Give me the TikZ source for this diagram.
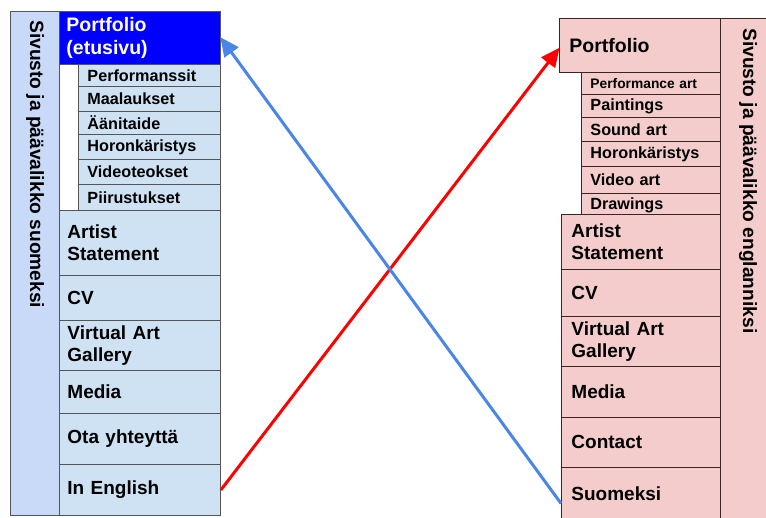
\documentclass[tikz,border=0pt]{standalone}
\usepackage{fontspec}
\setmainfont{Liberation Sans}
\usetikzlibrary{arrows.meta}
\definecolor{lblue}{HTML}{CFE2F3}
\definecolor{sideblue}{HTML}{C9DAF8}
\definecolor{dblue}{HTML}{0000FF}
\definecolor{lpink}{HTML}{F4CCCC}
\definecolor{lborder}{HTML}{555555}
\definecolor{rborder}{HTML}{3A2424}
\definecolor{arrowblue}{HTML}{4A86E8}
\definecolor{arrowred}{HTML}{FF0000}
\tikzset{
  basebox/.style={draw, line width=0.9pt, rectangle, anchor=north west, inner ysep=0pt, align=left, font=\bfseries\fontsize{19}{22.5}\selectfont},
  lmain/.style={basebox, draw=lborder, fill=lblue, inner xsep=8pt, text width=145pt},
  lsub/.style={basebox, draw=lborder, fill=lblue, inner xsep=9pt, text width=124pt, font=\bfseries\fontsize{16.2}{18}\selectfont},
  ltop/.style={basebox, draw=lborder, fill=dblue, text=white, inner xsep=7pt, text width=147pt, font=\bfseries\fontsize{19.5}{23}\selectfont},
  rmain/.style={basebox, draw=rborder, fill=lpink, inner xsep=10pt, text width=139pt},
  rsub/.style={basebox, draw=rborder, fill=lpink, inner xsep=9pt, text width=121pt, font=\bfseries\fontsize{16.2}{18}\selectfont},
  rtop/.style={basebox, draw=rborder, fill=lpink, inner xsep=10pt, text width=141pt, font=\bfseries\fontsize{19.5}{23}\selectfont},
  sidetext/.style={rotate=-90, anchor=west, inner sep=0pt, font=\bfseries\fontsize{19.2}{23}\selectfont},
  link/.style={line width=3pt, -{Triangle[length=19pt,width=17pt]}, shorten >=-1pt}
}
\begin{document}
\begin{tikzpicture}[x=1pt,y=-1pt]
\useasboundingbox[fill=white] (0,0) rectangle (766,517);
\begin{scope}
\clip (0,0) rectangle (766,517);
% ---------- left side ----------
\node[draw=lborder, line width=0.9pt, fill=sideblue, anchor=north west, minimum width=49pt, minimum height=504pt, inner sep=0pt] (lside) at (10,11) {};
\node[sidetext] (lsidetext) at (35,20) {Sivusto ja päävalikko suomeksi};
\node[ltop, minimum height=53pt] (portL) at (59,11) {Portfolio\\(etusivu)};
\node[lsub, minimum height=22pt] (l1) at (78,64) {Performanssit};
\node[lsub, minimum height=25pt] (l2) at (78,86) {Maalaukset};
\node[lsub, minimum height=23pt] (l3) at (78,111) {Äänitaide};
\node[lsub, minimum height=25pt] (l4) at (78,134) {Horonkäristys};
\node[lsub, minimum height=25pt] (l5) at (78,159) {Videoteokset};
\node[lsub, minimum height=26pt] (l6) at (78,184) {Piirustukset};
\node[lmain, minimum height=65pt] (lstate) at (59,210) {Artist\\Statement};
\node[lmain, minimum height=45pt] (lcv) at (59,275) {CV};
\node[lmain, minimum height=50pt] (lvag) at (59,320) {Virtual Art\\Gallery};
\node[lmain, minimum height=43pt] (lmedia) at (59,370) {Media};
\node[lmain, minimum height=51pt] (lcontact) at (59,413) {Ota yhteyttä};
\node[lmain, minimum height=51pt] (english) at (59,464) {In English};
% ---------- right side ----------
\node[draw=rborder, line width=0.9pt, fill=lpink, anchor=north west, minimum width=60pt, minimum height=510pt, inner sep=0pt] (rside) at (720,18) {};
\node[sidetext] (rsidetext) at (748,28) {Sivusto ja päävalikko englanniksi};
\node[rtop, minimum height=54pt] (portR) at (559,18) {Portfolio};
\node[rsub, minimum height=22pt, font=\bfseries\fontsize{13.8}{16}\selectfont] (r1) at (581,72) {Performance art};
\node[rsub, minimum height=23pt] (r2) at (581,94) {Paintings};
\node[rsub, minimum height=24pt] (r3) at (581,117) {Sound art};
\node[rsub, minimum height=25pt] (r4) at (581,141) {Horonkäristys};
\node[rsub, minimum height=27pt] (r5) at (581,166) {Video art};
\node[rsub, minimum height=23pt] (r6) at (581,193) {Drawings};
\node[rmain, minimum height=55pt] (rstate) at (561,214) {Artist\\Statement};
\node[rmain, minimum height=47pt] (rcv) at (561,269) {CV};
\node[rmain, minimum height=50pt] (rvag) at (561,316) {Virtual Art\\Gallery};
\node[rmain, minimum height=51pt] (rmedia) at (561,366) {Media};
\node[rmain, minimum height=50pt] (rcontact) at (561,417) {Contact};
\node[rmain, minimum height=52pt] (suomeksi) at (561,467) {Suomeksi};
% ---------- links ----------
\draw[link, draw=arrowred, fill=arrowred] (english.east) -- ([yshift=-3pt]portR.west);
\draw[link, draw=arrowblue, fill=arrowblue] ([yshift=-10pt]suomeksi.west) -- (portL.east);
\end{scope}
\end{tikzpicture}
\end{document}
